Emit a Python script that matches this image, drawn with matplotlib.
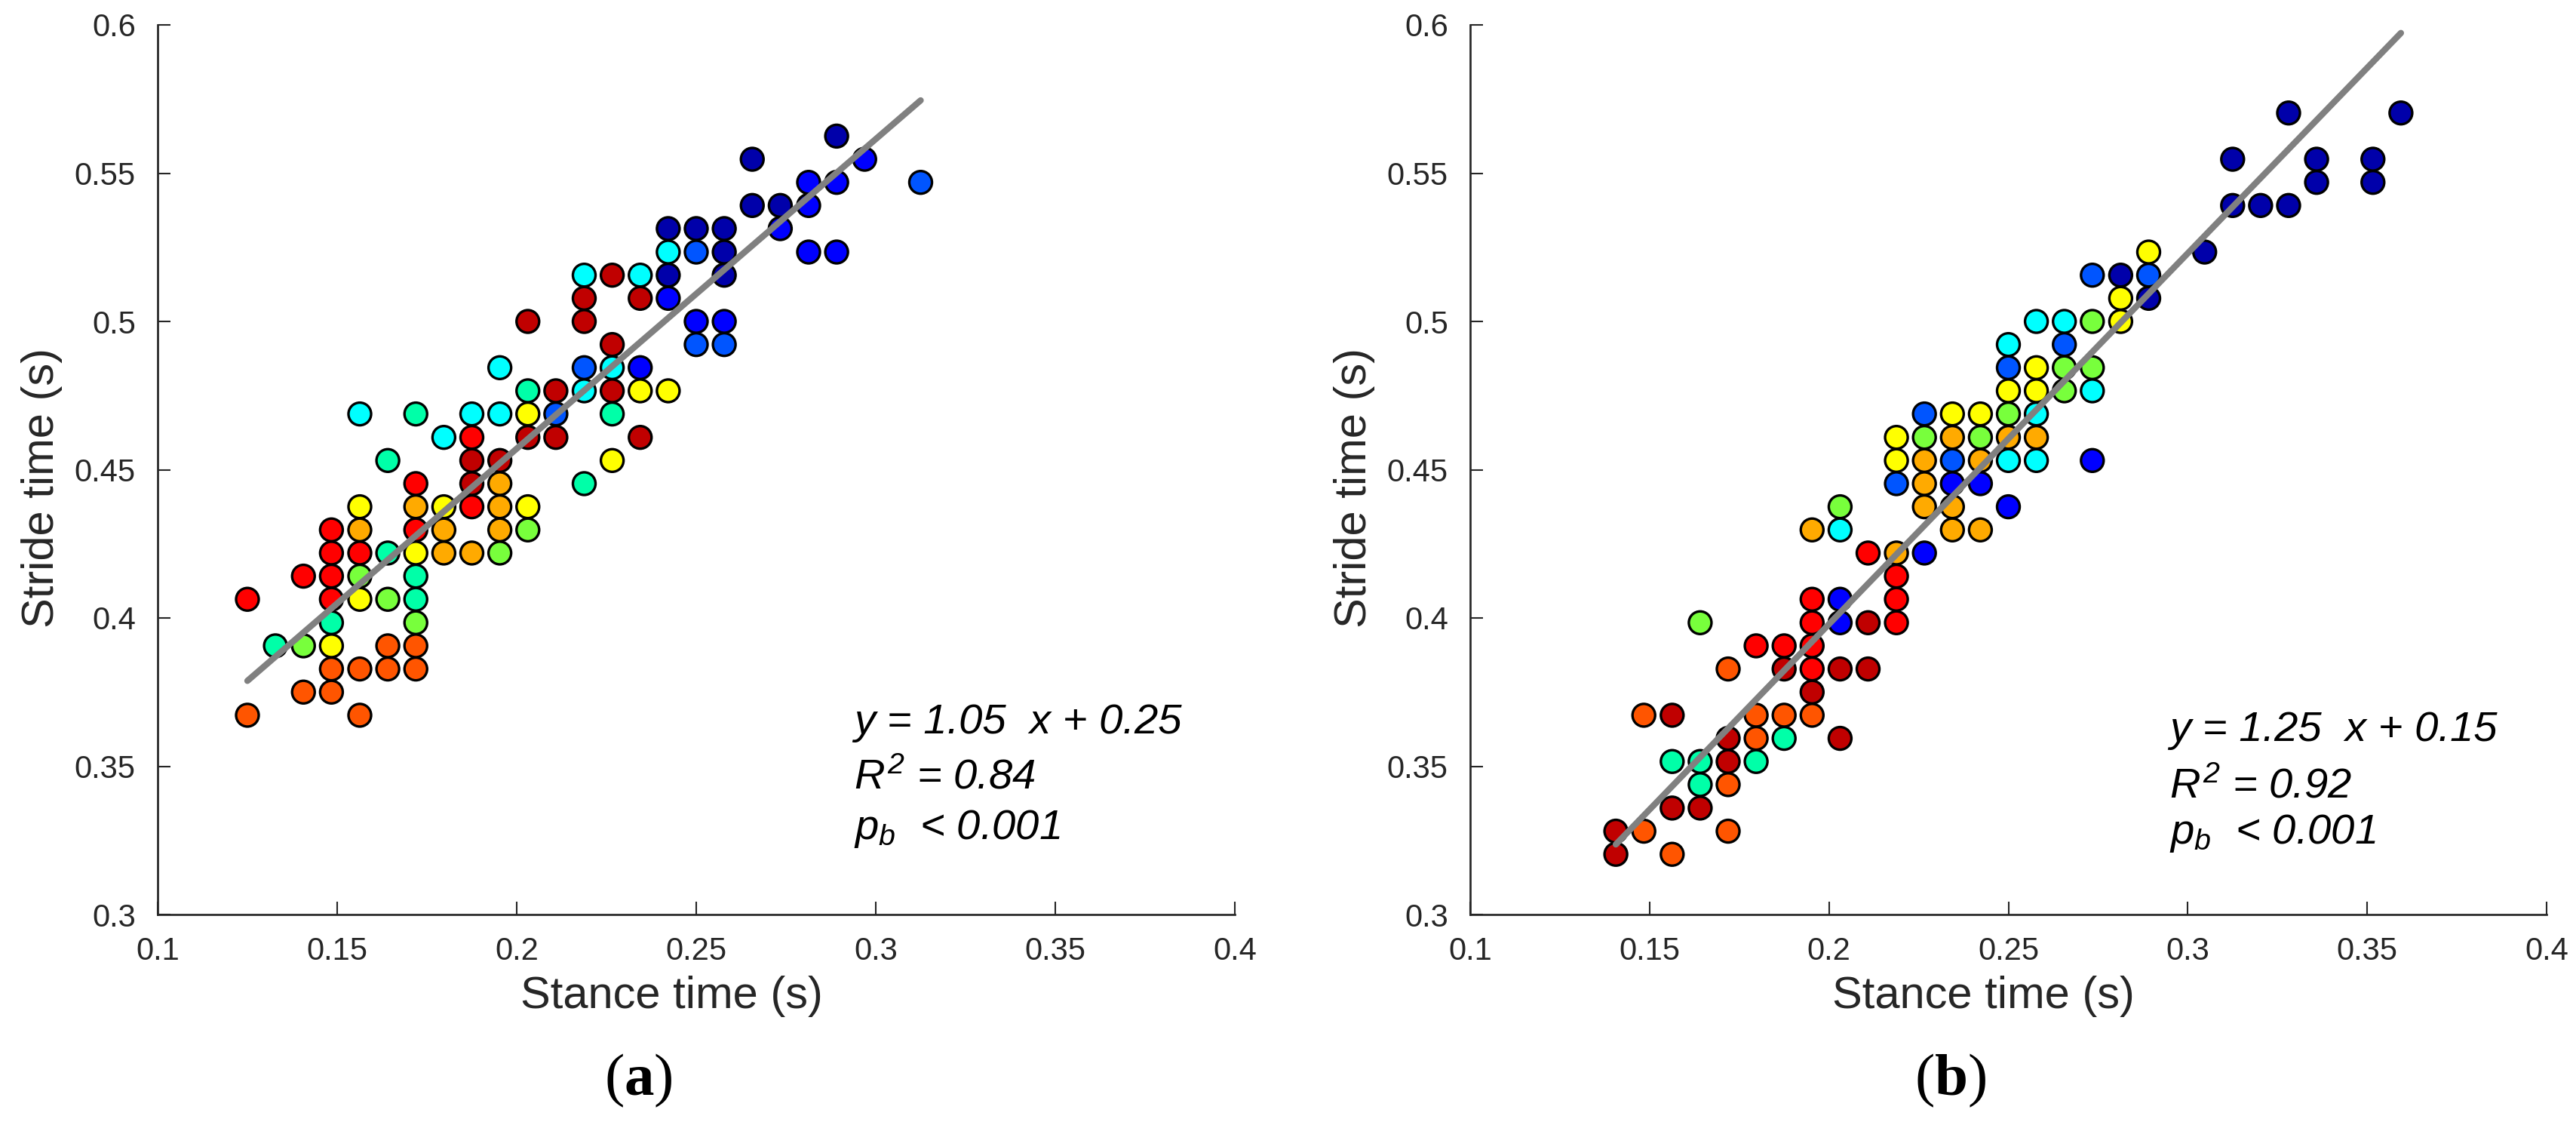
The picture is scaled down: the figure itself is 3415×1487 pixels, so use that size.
import numpy as np
import matplotlib
matplotlib.use('Agg')
from matplotlib import pyplot as plt

plt.rcParams['font.family'] = ['Liberation Sans', 'DejaVu Sans']
plt.rcParams['mathtext.fontset'] = 'custom'
plt.rcParams['mathtext.rm'] = 'Liberation Sans:italic'
plt.rcParams['mathtext.it'] = 'Liberation Sans:italic'
plt.rcParams['mathtext.bf'] = 'Liberation Serif:bold'

# one colour per subject (jet-like)
subject_colors = ['#C00000', '#FF0000', '#FF5500', '#FFAA00', '#FFFF00', '#78FF3C',
                  '#00FFA8', '#00FFFF', '#0055FF', '#0000FF', '#0000AA']

# panel (a)
stance_a = [0.1250, 0.1250,
            0.1328,
            0.1406, 0.1406, 0.1406,
            0.1484, 0.1484, 0.1484, 0.1484, 0.1484, 0.1484, 0.1484, 0.1484,
            0.1563, 0.1563, 0.1563, 0.1563, 0.1563, 0.1563, 0.1563, 0.1563,
            0.1641, 0.1641, 0.1641, 0.1641, 0.1641,
            0.1719, 0.1719, 0.1719, 0.1719, 0.1719, 0.1719, 0.1719, 0.1719, 0.1719, 0.1719,
            0.1797, 0.1797, 0.1797, 0.1797,
            0.1875, 0.1875, 0.1875, 0.1875, 0.1875, 0.1875,
            0.1953, 0.1953, 0.1953, 0.1953, 0.1953, 0.1953, 0.1953,
            0.2031, 0.2031, 0.2031, 0.2031, 0.2031, 0.2031,
            0.2109, 0.2109, 0.2109,
            0.2188, 0.2188, 0.2188, 0.2188, 0.2188, 0.2188,
            0.2266, 0.2266, 0.2266, 0.2266, 0.2266, 0.2266,
            0.2344, 0.2344, 0.2344, 0.2344, 0.2344,
            0.2422, 0.2422, 0.2422, 0.2422, 0.2422,
            0.2500, 0.2500, 0.2500, 0.2500,
            0.2578, 0.2578, 0.2578, 0.2578, 0.2578,
            0.2656, 0.2656,
            0.2734, 0.2734,
            0.2813, 0.2813, 0.2813,
            0.2891, 0.2891, 0.2891,
            0.2969,
            0.3125]
stride_a = [0.4063, 0.3672,
            0.3906,
            0.4141, 0.3906, 0.3750,
            0.4297, 0.4219, 0.4141, 0.4063, 0.3984, 0.3906, 0.3828, 0.3750,
            0.4688, 0.4375, 0.4297, 0.4219, 0.4141, 0.4063, 0.3828, 0.3672,
            0.4531, 0.4219, 0.4063, 0.3906, 0.3828,
            0.4688, 0.4453, 0.4375, 0.4297, 0.4219, 0.4141, 0.4063, 0.3984, 0.3906, 0.3828,
            0.4609, 0.4375, 0.4297, 0.4219,
            0.4688, 0.4609, 0.4531, 0.4453, 0.4375, 0.4219,
            0.4844, 0.4688, 0.4531, 0.4453, 0.4375, 0.4297, 0.4219,
            0.5000, 0.4766, 0.4688, 0.4609, 0.4375, 0.4297,
            0.4766, 0.4688, 0.4609,
            0.5156, 0.5078, 0.5000, 0.4844, 0.4766, 0.4453,
            0.5156, 0.4922, 0.4844, 0.4766, 0.4688, 0.4531,
            0.5156, 0.5078, 0.4844, 0.4766, 0.4609,
            0.5313, 0.5234, 0.5156, 0.5078, 0.4766,
            0.5313, 0.5234, 0.5000, 0.4922,
            0.5313, 0.5234, 0.5156, 0.5000, 0.4922,
            0.5547, 0.5391,
            0.5391, 0.5313,
            0.5469, 0.5391, 0.5234,
            0.5625, 0.5469, 0.5234,
            0.5547,
            0.5469]
subject_a = [1, 2,
             6,
             1, 5, 2,
             1, 1, 1, 1, 6, 4, 2, 2,
             7, 4, 3, 1, 5, 4, 2, 2,
             6, 6, 5, 2, 2,
             6, 1, 3, 1, 4, 6, 6, 5, 2, 2,
             7, 4, 3, 3,
             7, 1, 0, 0, 1, 3,
             7, 7, 0, 3, 3, 3, 5,
             0, 6, 4, 0, 4, 5,
             0, 8, 0,
             7, 0, 0, 8, 7, 6,
             0, 0, 7, 0, 6, 4,
             7, 0, 9, 4, 0,
             10, 7, 10, 9, 4,
             10, 8, 9, 8,
             10, 10, 10, 9, 8,
             10, 10,
             10, 9,
             9, 9, 9,
             10, 9, 9,
             9,
             8]

# panel (b)
stance_b = [0.1406, 0.1406,
            0.1484, 0.1484,
            0.1563, 0.1563, 0.1563, 0.1563,
            0.1641, 0.1641, 0.1641, 0.1641,
            0.1719, 0.1719, 0.1719, 0.1719, 0.1719,
            0.1797, 0.1797, 0.1797, 0.1797,
            0.1875, 0.1875, 0.1875, 0.1875,
            0.1953, 0.1953, 0.1953, 0.1953, 0.1953, 0.1953, 0.1953,
            0.2031, 0.2031, 0.2031, 0.2031, 0.2031, 0.2031,
            0.2109, 0.2109, 0.2109,
            0.2188, 0.2188, 0.2188, 0.2188, 0.2188, 0.2188, 0.2188,
            0.2266, 0.2266, 0.2266, 0.2266, 0.2266, 0.2266,
            0.2344, 0.2344, 0.2344, 0.2344, 0.2344, 0.2344,
            0.2422, 0.2422, 0.2422, 0.2422, 0.2422,
            0.2500, 0.2500, 0.2500, 0.2500, 0.2500, 0.2500, 0.2500,
            0.2578, 0.2578, 0.2578, 0.2578, 0.2578, 0.2578,
            0.2656, 0.2656, 0.2656, 0.2656,
            0.2734, 0.2734, 0.2734, 0.2734, 0.2734,
            0.2813, 0.2813, 0.2813,
            0.2891, 0.2891, 0.2891,
            0.3047,
            0.3125, 0.3125,
            0.3203,
            0.3281, 0.3281,
            0.3359, 0.3359,
            0.3516, 0.3516,
            0.3594]
stride_b = [0.3281, 0.3203,
            0.3672, 0.3281,
            0.3672, 0.3516, 0.3359, 0.3203,
            0.3984, 0.3516, 0.3438, 0.3359,
            0.3828, 0.3594, 0.3516, 0.3438, 0.3281,
            0.3906, 0.3672, 0.3594, 0.3516,
            0.3906, 0.3828, 0.3672, 0.3594,
            0.4297, 0.4063, 0.3984, 0.3906, 0.3828, 0.3750, 0.3672,
            0.4375, 0.4297, 0.4063, 0.3984, 0.3828, 0.3594,
            0.4219, 0.3984, 0.3828,
            0.4609, 0.4531, 0.4453, 0.4219, 0.4141, 0.4063, 0.3984,
            0.4688, 0.4609, 0.4531, 0.4453, 0.4375, 0.4219,
            0.4688, 0.4609, 0.4531, 0.4453, 0.4375, 0.4297,
            0.4688, 0.4609, 0.4531, 0.4453, 0.4297,
            0.4922, 0.4844, 0.4766, 0.4688, 0.4609, 0.4531, 0.4375,
            0.5000, 0.4844, 0.4766, 0.4688, 0.4609, 0.4531,
            0.5000, 0.4922, 0.4844, 0.4766,
            0.5156, 0.5000, 0.4844, 0.4766, 0.4531,
            0.5156, 0.5078, 0.5000,
            0.5234, 0.5156, 0.5078,
            0.5234,
            0.5547, 0.5391,
            0.5391,
            0.5703, 0.5391,
            0.5547, 0.5469,
            0.5547, 0.5469,
            0.5703]
subject_b = [0, 0,
             2, 2,
             0, 6, 0, 2,
             5, 6, 6, 0,
             2, 0, 0, 2, 2,
             1, 2, 2, 6,
             1, 0, 2, 6,
             3, 1, 1, 1, 1, 0, 2,
             5, 7, 9, 9, 0, 0,
             1, 0, 0,
             4, 4, 8, 3, 1, 1, 1,
             8, 5, 3, 3, 3, 9,
             4, 3, 8, 9, 3, 3,
             4, 5, 3, 9, 3,
             7, 8, 4, 5, 3, 7, 9,
             7, 4, 4, 7, 3, 7,
             7, 8, 5, 5,
             8, 5, 5, 7, 9,
             10, 4, 4,
             4, 8, 10,
             10,
             10, 10,
             10,
             10, 10,
             10, 10,
             10, 10,
             10]

# regression line (slope, intercept) as drawn
fit_a = (1.044, 0.2483)
fit_b = (1.2506, 0.1478)
stats_a = ['y = 1.05  x + 0.25', '$R^2$ = 0.84', '$p_b$  < 0.001']
stats_b = ['y = 1.25  x + 0.15', '$R^2$ = 0.92', '$p_b$  < 0.001']

x_ticks = [0.1, 0.15, 0.2, 0.25, 0.3, 0.35, 0.4]
x_labels = ['0.1', '0.15', '0.2', '0.25', '0.3', '0.35', '0.4']
y_ticks = [0.3, 0.35, 0.4, 0.45, 0.5, 0.55, 0.6]
y_labels = ['0.3', '0.35', '0.4', '0.45', '0.5', '0.55', '0.6']

TXT = '#262626'


def draw_panel(ax, stance, stride, subject, fit, stats, text_x, text_y):
    cols = [subject_colors[i] for i in subject]
    ax.scatter(stance, stride, s=52, c=cols, edgecolors='black', linewidths=0.8, zorder=2)
    xs = np.array([min(stance), max(stance)])
    ax.plot(xs, fit[0] * xs + fit[1], color='#808080', lw=2.0,
            solid_capstyle='round', zorder=3)
    for s, ty in zip(stats, text_y):
        ax.text(text_x, ty, s, fontsize=13.5, style='italic', va='baseline', ha='left')

    ax.set_xlim(0.1, 0.4)
    ax.set_ylim(0.3, 0.6)
    ax.set_xticks(x_ticks)
    ax.set_xticklabels(x_labels)
    ax.set_yticks(y_ticks)
    ax.set_yticklabels(y_labels)
    for side in ['top', 'right']:
        ax.spines[side].set_visible(False)
    for side in ['left', 'bottom']:
        ax.spines[side].set_linewidth(0.65)
        ax.spines[side].set_color(TXT)
    ax.tick_params(direction='in', length=4, width=0.5, color=TXT,
                   labelsize=10, labelcolor=TXT, pad=7)
    ax.set_xlabel('Stance time (s)', fontsize=14.3, color=TXT)
    ax.set_ylabel('Stride time (s)', fontsize=14.3, color=TXT)
    ax.xaxis.set_label_coords(0.477, -0.069)
    ax.yaxis.set_label_coords(-0.088, 0.48)


fig = plt.figure(figsize=(3415 / 300, 1487 / 300))
ax_a = fig.add_axes([209 / 3415, 1 - 1212 / 1487, 1428 / 3415, 1179 / 1487])
ax_b = fig.add_axes([1949 / 3415, 1 - 1212 / 1487, 1427 / 3415, 1179 / 1487])

draw_panel(ax_a, stance_a, stride_a, subject_a, fit_a, stats_a, 0.294, [0.3611, 0.3424, 0.3254])
draw_panel(ax_b, stance_b, stride_b, subject_b, fit_b, stats_b, 0.2949, [0.3586, 0.3394, 0.3238])

fig.text(0.2478, 0.037, r'($\mathbf{a}$)', fontsize=19, family='Liberation Serif',
         ha='center', va='center')
fig.text(0.757, 0.037, r'($\mathbf{b}$)', fontsize=19, family='Liberation Serif',
         ha='center', va='center')

plt.savefig('out.png', dpi=300)
